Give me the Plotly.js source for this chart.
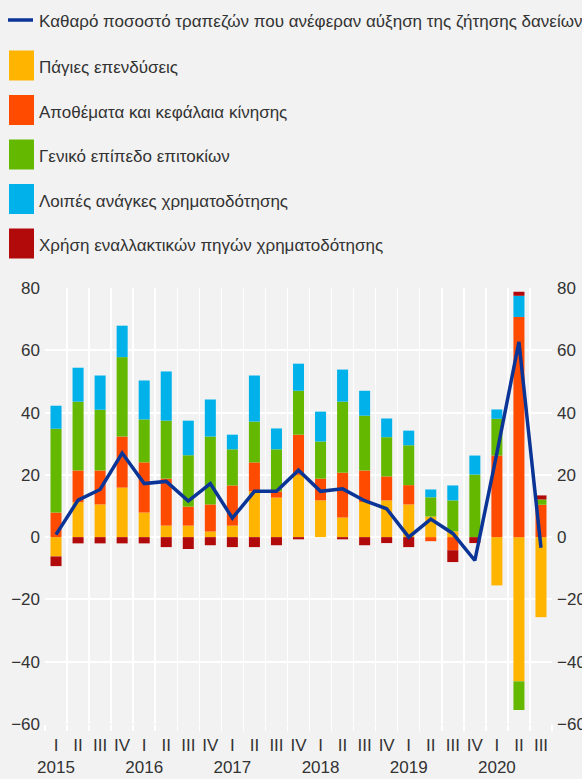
<!DOCTYPE html>
<html>
<head>
<meta charset="utf-8">
<script src="https://cdn.plot.ly/plotly-3.0.1.min.js"></script>
<style>
  html, body { margin: 0; padding: 0; background: #f2f2f2; }
  #chart { width: 582px; height: 779px; }
</style>
</head>
<body>
<div id="chart"></div>
<script>
// ---- data ----
const categories = ["2015 I","2015 II","2015 III","2015 IV","2016 I","2016 II","2016 III","2016 IV",
  "2017 I","2017 II","2017 III","2017 IV","2018 I","2018 II","2018 III","2018 IV",
  "2019 I","2019 II","2019 III","2019 IV","2020 I","2020 II","2020 III"];
const tickLabels = ["I<br>2015","II","III","IV","I<br>2016","II","III","IV",
  "I<br>2017","II","III","IV","I<br>2018","II","III","IV",
  "I<br>2019","II","III","IV","I<br>2020","II","III"];

const fixedInvestment = [-6.2, 11.2, 10.5, 15.9, 7.9, 3.7, 3.7, 1.8, 3.7, 14.7, 12.7, 20.0, 11.8, 6.3, 11.3, 11.8, 10.5, 6.6, 1.9, 0, -15.5, -46.3, -25.7];
const inventories     = [7.9, 10.2, 10.9, 16.4, 16.1, 15.1, 6.1, 8.7, 12.9, 9.3, 2.0, 12.9, 7.0, 14.4, 10.1, 7.7, 6.2, -1.3, -4.2, 0, 26.2, 70.7, 10.4];
const interestRates   = [26.9, 22.1, 19.5, 25.5, 13.8, 18.6, 16.5, 21.8, 11.6, 13.1, 13.5, 14.1, 11.9, 22.8, 17.6, 12.6, 12.8, 6.2, 9.9, 20.1, 11.8, -9.2, 1.7];
const otherNeeds      = [7.4, 10.9, 11.0, 10.1, 12.5, 15.8, 11.1, 11.9, 4.7, 14.8, 6.7, 8.7, 9.6, 10.3, 8.0, 6.0, 4.7, 2.5, 4.8, 6.1, 3.0, 6.8, 0];
const altFinancing    = [-3.1, -2.0, -2.0, -2.0, -2.0, -3.2, -3.8, -2.6, -3.2, -3.2, -2.6, -0.7, 0, -0.7, -2.6, -1.9, -3.2, 0, -3.8, -1.9, 0, 1.3, 1.3];
const netPercentage   = [0.8, 11.9, 15.3, 27.0, 17.2, 17.9, 11.6, 17.2, 6.1, 14.7, 14.7, 21.5, 14.7, 15.5, 11.7, 9.1, 0.0, 5.8, 1.2, -7.5, 27.0, 62.7, -3.4];

const lineName = "Καθαρό ποσοστό τραπεζών που ανέφεραν αύξηση της ζήτησης δανείων";
const barNames = ["Πάγιες επενδύσεις","Αποθέματα και κεφάλαια κίνησης","Γενικό επίπεδο επιτοκίων",
  "Λοιπές ανάγκες χρηματοδότησης","Χρήση εναλλακτικών πηγών χρηματοδότησης"];
const barSeries = [fixedInvestment, inventories, interestRates, otherNeeds, altFinancing];
const yTicks = [-60, -40, -20, 0, 20, 40, 60, 80];

// ---- styles ----
const barColors = ["#FFB400", "#FF4B00", "#65B800", "#00B1EA", "#B20A0A"];
const lineColor = "#0A3597";
const FONT = "Liberation Sans, Arial, Helvetica, sans-serif";
const textColor = "#333333";
const W = 582, H = 779;
const M = {l: 45, r: 30, t: 288, b: 55};
const plotW = W - M.l - M.r, plotH = H - M.t - M.b;
const px2x = px => (px - M.l) / plotW;
const py2y = py => (H - M.b - py) / plotH;

const traces = barSeries.map((vals, i) => ({
  type: "bar", name: barNames[i], x: categories, y: vals,
  marker: {color: barColors[i], line: {width: 0}},
  showlegend: false, hoverinfo: "x+y+name"
}));
traces.push({
  type: "scatter", mode: "lines", name: lineName, x: categories, y: netPercentage,
  yaxis: "y2", line: {color: lineColor, width: 3.5}, showlegend: false
});

// custom legend (large swatches as in the original)
const shapes = [], annotations = [];
shapes.push({type: "line", xref: "paper", yref: "paper",
  x0: px2x(8), x1: px2x(33), y0: py2y(20), y1: py2y(20),
  line: {color: lineColor, width: 3.5}});
annotations.push({xref: "paper", yref: "paper", x: px2x(37), y: py2y(21),
  xanchor: "left", yanchor: "middle", showarrow: false, text: lineName,
  font: {family: FONT, size: 17, color: textColor}});
barNames.forEach((nm, i) => {
  const cy = 65.5 + 44.5 * i;
  shapes.push({type: "rect", xref: "paper", yref: "paper",
    x0: px2x(9), x1: px2x(34), y0: py2y(cy - 15), y1: py2y(cy + 15),
    fillcolor: barColors[i], line: {width: 0}});
  annotations.push({xref: "paper", yref: "paper", x: px2x(37), y: py2y(cy + 2),
    xanchor: "left", yanchor: "middle", showarrow: false, text: nm,
    font: {family: FONT, size: 17, color: textColor}});
});

const yCommon = {
  range: [-60, 80], tickvals: yTicks, ticks: "", fixedrange: true,
  tickfont: {family: FONT, size: 17, color: textColor}
};

const layout = {
  width: W, height: H,
  margin: M,
  paper_bgcolor: "#f2f2f2", plot_bgcolor: "#f2f2f2",
  barmode: "relative", bargap: 0.5,
  font: {family: FONT, size: 17, color: textColor},
  xaxis: {
    type: "category", categoryorder: "array", categoryarray: categories,
    tickvals: categories, ticktext: tickLabels, tickson: "boundaries",
    tickangle: 0, automargin: false, ticklabelstandoff: 9,
    ticks: "outside", ticklen: 6, tickcolor: "#ffffff", tickwidth: 1.5,
    showgrid: true, gridcolor: "#ffffff", gridwidth: 1.5,
    showline: false, zeroline: false, fixedrange: true,
    tickfont: {family: FONT, size: 17, color: textColor}
  },
  yaxis: Object.assign({}, yCommon, {
    side: "left", showgrid: true, gridcolor: "#ffffff", gridwidth: 2,
    zeroline: true, zerolinecolor: "#ffffff", zerolinewidth: 2,
    ticklabelstandoff: 4
  }),
  yaxis2: Object.assign({}, yCommon, {
    overlaying: "y", side: "right", showgrid: false, zeroline: false,
    ticklabelstandoff: 4
  }),
  shapes: shapes,
  annotations: annotations,
  showlegend: false
};

Plotly.newPlot("chart", traces, layout, {displayModeBar: false, staticPlot: true});
</script>
</body>
</html>
